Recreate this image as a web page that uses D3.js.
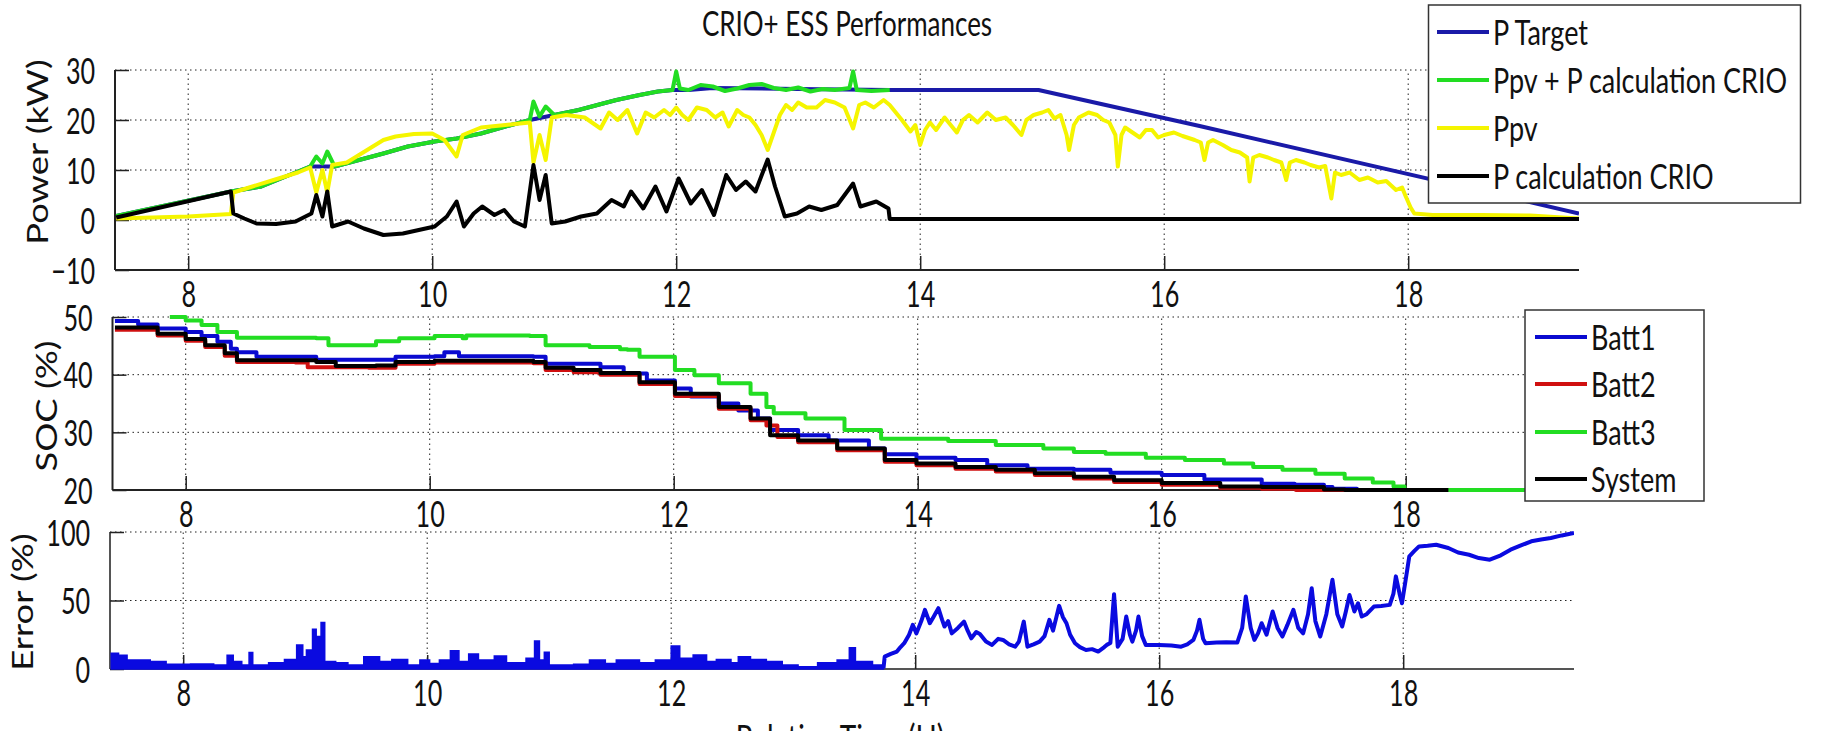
<!DOCTYPE html>
<html>
<head>
<meta charset="utf-8">
<script src="https://cdn.jsdelivr.net/npm/d3@7"></script>
<style>
  body { margin: 0; background: #fff; }
  svg { display: block; font-family: Lato, "Open Sans", sans-serif; }
</style>
</head>
<body>
<div id="chart"></div>
<script>
// ---- data (time in relative hours) ----

// Power panel
var tTarget = [7.41, 8.35, 8.6, 8.8, 9.0, 9.2, 9.4, 9.6, 9.8, 10.02, 10.2, 10.4, 10.6, 10.8, 11.0, 11.2, 11.4, 11.51, 11.7, 11.85, 11.97, 12.1, 12.3, 13.0, 13.75, 14.97, 16.29, 19.4];
var pTarget = [0.8, 5.7, 6.7, 8.7, 10.7, 10.7, 12.0, 13.3, 14.7, 15.7, 16.3, 17.3, 18.7, 20.0, 21.0, 22.0, 23.3, 24.0, 25.0, 25.7, 26.0, 26.0, 26.4, 26.2, 26.0, 26.0, 18.8, 1.3];

var tPpvCalc = [7.41, 8.35, 8.6, 8.8, 9.0, 9.05, 9.1, 9.14, 9.2, 9.4, 9.6, 9.8, 10.02, 10.2, 10.4, 10.6, 10.8, 10.83, 10.88, 10.93, 11.0, 11.2, 11.4, 11.51, 11.7, 11.85, 11.97, 12.0, 12.03, 12.1, 12.2, 12.3, 12.4, 12.5, 12.6, 12.7, 12.8, 12.9, 13.0, 13.1, 13.2, 13.3, 13.42, 13.45, 13.48, 13.6, 13.75];
var pPpvCalc = [0.8, 5.7, 6.7, 8.7, 10.7, 12.7, 11.3, 13.7, 10.7, 12.0, 13.3, 14.7, 15.7, 16.3, 17.3, 18.7, 20.0, 23.7, 20.7, 22.7, 21.0, 22.0, 23.3, 24.0, 25.0, 25.7, 26.0, 29.7, 26.3, 26.0, 27.0, 26.7, 25.8, 26.3, 27.0, 27.2, 26.4, 26.0, 26.5, 25.7, 26.2, 26.0, 26.4, 29.7, 26.0, 25.8, 26.0];

var tPpv = [7.41, 8.0, 8.35, 8.37, 8.5, 8.7, 8.9, 9.0, 9.05, 9.1, 9.14, 9.18, 9.3, 9.4, 9.5, 9.6, 9.7, 9.85, 10.0, 10.1, 10.2, 10.25, 10.4, 10.6, 10.8, 10.83, 10.88, 10.93, 10.98, 11.1, 11.25, 11.38,
  11.45, 11.52, 11.6, 11.68, 11.75, 11.82, 11.9, 11.95, 12.0, 12.05, 12.1, 12.17, 12.25, 12.32, 12.38, 12.43, 12.5, 12.55, 12.6, 12.65, 12.7, 12.75, 12.8, 12.85, 12.9, 12.95, 13.0, 13.07, 13.15, 13.22, 13.3, 13.38, 13.45, 13.5, 13.55, 13.62,
  13.7, 13.75, 13.8, 13.85, 13.92, 13.96, 14.0, 14.04, 14.08, 14.13, 14.2, 14.25, 14.3, 14.35, 14.4, 14.47, 14.55, 14.62, 14.7, 14.76, 14.83, 14.87, 14.93, 15.0, 15.05, 15.1, 15.15, 15.2, 15.22, 15.26, 15.3, 15.38, 15.45, 15.5, 15.55, 15.6, 15.62, 15.65, 15.68, 15.74, 15.8, 15.85, 15.9, 15.95,
  16.0, 16.08, 16.15, 16.25, 16.3, 16.33, 16.36, 16.4, 16.48, 16.55, 16.62, 16.68, 16.7, 16.73, 16.78, 16.85, 16.9, 16.96, 17.0, 17.03, 17.08, 17.15, 17.2, 17.27, 17.32, 17.37, 17.4, 17.45, 17.52, 17.6, 17.67, 17.75, 17.82, 17.9, 17.95, 17.98, 18.02, 18.05, 18.2, 18.6, 19.0, 19.4];
var pPpv = [0.3, 0.7, 1.2, 5.5, 6.5, 8.0, 9.5, 10.5, 5.5, 10.0, 5.5, 11.0, 11.5, 13.0, 14.5, 16.0, 16.7, 17.2, 17.3, 16.0, 12.7, 17.0, 18.5, 19.0, 19.5, 11.5, 17.0, 12.0, 20.5, 21.0, 20.5, 18.3,
  21.5, 20.0, 22.0, 17.3, 21.5, 20.5, 22.0, 21.0, 22.5, 21.0, 20.0, 22.5, 22.0, 20.5, 21.5, 18.7, 22.0, 21.0, 20.5, 19.0, 17.0, 14.0, 17.5, 21.0, 23.0, 22.0, 23.5, 22.5, 22.5, 24.0, 23.5, 22.5, 18.3, 23.0, 23.5, 22.5,
  24.0, 23.0, 21.5, 20.0, 17.7, 19.0, 15.0, 18.0, 19.5, 18.0, 20.5, 19.0, 17.5, 20.0, 21.0, 19.5, 21.5, 20.0, 20.5, 19.0, 17.0, 20.0, 21.0, 21.5, 22.0, 20.3, 21.0, 17.0, 14.0, 19.0, 20.5, 21.5, 21.0, 20.0, 19.5, 17.0, 10.7, 17.0, 18.5, 17.5, 16.5, 18.0, 18.0, 16.5,
  17.0, 17.5, 16.8, 16.0, 15.5, 12.0, 15.5, 16.0, 15.0, 14.0, 13.5, 12.5, 7.7, 12.5, 13.0, 12.5, 12.0, 11.5, 8.0, 11.5, 12.0, 11.5, 11.0, 10.5, 10.8, 4.3, 9.5, 9.0, 9.5, 8.0, 8.5, 7.5, 7.8, 6.0, 6.5, 4.7, 2.5, 1.3, 1.0, 1.0, 0.9, 0.3];

var tCalc = [7.41, 8.35, 8.37, 8.46, 8.56, 8.72, 8.88, 9.01, 9.05, 9.1, 9.14, 9.18, 9.31, 9.44, 9.6, 9.76, 9.89, 10.02, 10.12, 10.2, 10.26, 10.34, 10.41, 10.51, 10.59, 10.67, 10.76, 10.83, 10.88, 10.93, 10.98, 11.09, 11.22, 11.35, 11.47, 11.57, 11.63, 11.73, 11.83, 11.92, 12.02, 12.12, 12.21, 12.31, 12.41, 12.49, 12.57, 12.65, 12.75, 12.81, 12.89, 12.99, 13.09, 13.19, 13.32, 13.45, 13.51, 13.64, 13.74, 13.75, 19.4];
var pCalc = [0.5, 5.7, 1.3, 0.3, -0.7, -0.8, -0.3, 1.3, 5.0, 0.7, 5.7, -1.3, -0.3, -1.7, -3.0, -2.7, -2.0, -1.3, 0.7, 3.7, -1.3, 1.3, 2.7, 1.0, 2.0, -0.3, -1.3, 11.0, 4.0, 9.0, -0.7, -0.3, 0.7, 1.3, 4.0, 2.7, 5.7, 2.3, 6.7, 1.7, 8.3, 3.3, 6.0, 1.0, 9.0, 6.0, 7.7, 5.7, 12.1, 6.7, 0.7, 1.3, 2.7, 2.0, 3.0, 7.3, 2.7, 3.7, 2.3, 0.2, 0.2];

// SOC panel
var tBatt1 = [7.42, 7.61, 7.77, 8.0, 8.13, 8.26, 8.37, 8.42, 8.58, 9.07, 9.72, 10.04, 10.12, 10.24, 10.85, 10.95, 11.4, 11.59, 11.78, 12.01, 12.14, 12.37, 12.53, 12.69, 12.79, 13.02, 13.27, 13.6, 13.73, 13.99, 14.31, 14.57, 14.9, 15.28, 15.58, 16.0, 16.35, 16.82, 17.09, 17.33, 17.4, 17.6];
var batt1 = [49.3, 48.7, 48.0, 47.4, 46.7, 45.7, 44.5, 43.9, 43.1, 42.6, 43.1, 43.2, 43.9, 43.2, 43.1, 41.9, 41.3, 40.2, 39.0, 37.6, 36.2, 35.0, 33.8, 32.4, 30.4, 29.5, 28.6, 27.2, 26.2, 25.6, 25.2, 24.3, 23.7, 23.5, 23.0, 22.6, 21.8, 21.1, 20.9, 20.5, 20.2, 20.0];

var tBatt2 = [7.42, 7.77, 8.0, 8.16, 8.32, 8.42, 8.9, 9.0, 9.5, 9.72, 10.04, 10.85, 10.95, 11.18, 11.4, 11.72, 12.01, 12.37, 12.63, 12.76, 12.85, 13.02, 13.34, 13.73, 13.99, 14.31, 14.64, 14.96, 15.28, 15.61, 16.0, 16.48, 16.82, 17.1, 17.55];
var batt2 = [47.8, 46.8, 45.9, 44.8, 43.3, 42.2, 42.1, 41.3, 41.2, 41.9, 42.1, 42.0, 40.8, 40.4, 40.0, 38.4, 36.3, 34.1, 32.1, 31.2, 29.2, 28.3, 26.9, 24.9, 24.3, 23.7, 23.2, 22.6, 22.0, 21.4, 20.9, 20.4, 20.2, 20.0, 20.0];

var tBatt3 = [7.87, 8.0, 8.13, 8.26, 8.42, 9.07, 9.17, 9.52, 9.56, 9.75, 10.04, 10.27, 10.3, 10.82, 10.95, 11.31, 11.56, 11.62, 11.72, 12.01, 12.17, 12.37, 12.63, 12.76, 12.82, 13.08, 13.4, 13.7, 14.25, 14.64, 15.03, 15.28, 15.54, 15.87, 16.19, 16.51, 16.75, 16.99, 17.26, 17.5, 17.73, 17.9, 17.99, 19.4];
var batt3 = [50.0, 49.4, 48.6, 47.4, 46.4, 46.3, 45.1, 45.1, 45.8, 46.3, 46.7, 46.3, 46.8, 46.7, 45.1, 44.8, 44.4, 44.3, 43.1, 40.8, 39.9, 38.5, 36.7, 34.4, 33.3, 32.4, 30.4, 28.9, 28.5, 27.8, 27.2, 26.6, 26.3, 25.6, 25.2, 24.6, 24.0, 23.5, 22.8, 22.0, 21.3, 20.6, 20.0, 20.0];

var tSystem = [7.42, 7.77, 8.0, 8.16, 8.32, 8.42, 9.07, 9.23, 9.56, 9.72, 10.04, 10.85, 10.95, 11.18, 11.4, 11.72, 12.01, 12.37, 12.63, 12.79, 13.02, 13.34, 13.73, 13.99, 14.31, 14.64, 14.96, 15.28, 15.61, 16.0, 16.48, 16.82, 17.33, 17.5, 18.35];
var system = [48.2, 47.1, 46.2, 45.1, 43.7, 42.5, 42.2, 41.5, 41.6, 42.2, 42.4, 42.2, 41.2, 40.8, 40.3, 38.7, 36.7, 34.4, 32.4, 29.5, 28.6, 27.2, 25.2, 24.6, 24.0, 23.5, 22.9, 22.3, 21.7, 21.2, 20.6, 20.5, 20.1, 20.0, 20.0];

// Error panel
var tErr = [7.41, 7.47, 7.54, 7.67, 7.73, 7.86, 8.06, 8.25, 8.36, 8.41, 8.48, 8.54, 8.57, 8.7, 8.83, 8.93, 8.98, 9.01, 9.06, 9.09, 9.13, 9.16, 9.25, 9.35, 9.48, 9.61, 9.71, 9.84, 9.94, 10.02, 10.1, 10.19, 10.26, 10.34, 10.42, 10.55, 10.65, 10.81, 10.88, 10.92, 10.96, 11.0, 11.2, 11.33, 11.46, 11.55, 11.74, 11.87, 12.0, 12.07, 12.18, 12.29, 12.37, 12.49, 12.55, 12.65, 12.78, 12.91, 13.04, 13.2, 13.36, 13.46, 13.51, 13.65, 13.74,
  13.75, 13.8, 13.85, 13.88, 13.91, 13.95, 13.98, 14.01, 14.05, 14.08, 14.12, 14.15, 14.19, 14.22, 14.24, 14.27, 14.3, 14.35, 14.4, 14.43, 14.46, 14.5, 14.53, 14.58, 14.63, 14.68, 14.72, 14.77, 14.82, 14.85, 14.89, 14.92, 14.97, 15.02, 15.06, 15.1, 15.13, 15.18, 15.21, 15.24, 15.27, 15.31, 15.35, 15.4, 15.45, 15.5, 15.55, 15.57, 15.6, 15.63, 15.66, 15.7, 15.73, 15.76, 15.78, 15.81, 15.83, 15.86, 15.89,
  16.0, 16.1, 16.18, 16.23, 16.28, 16.31, 16.33, 16.36, 16.38, 16.47, 16.55, 16.64, 16.68, 16.71, 16.75, 16.78, 16.81, 16.84, 16.88, 16.93, 16.97, 17.01, 17.05, 17.1, 17.14, 17.18, 17.22, 17.25, 17.28, 17.32, 17.37, 17.42, 17.46, 17.5, 17.53, 17.56, 17.6, 17.63, 17.66, 17.7, 17.76, 17.82, 17.89, 17.92, 17.94, 17.97, 17.99, 18.02, 18.05, 18.09, 18.13, 18.2, 18.27, 18.37, 18.45, 18.54, 18.62, 18.71, 18.8, 18.88, 18.96, 19.05, 19.13, 19.21, 19.3, 19.4];
var err = [11.5, 10.0, 6.6, 6.6, 5.4, 3.4, 3.7, 3.0, 10.0, 5.4, 3.0, 12.0, 3.0, 4.6, 7.0, 17.6, 9.0, 13.9, 29.0, 23.7, 33.9, 5.4, 4.6, 3.0, 9.0, 5.4, 7.0, 3.0, 6.6, 4.1, 6.6, 13.4, 5.4, 11.0, 6.6, 9.5, 4.6, 7.8, 20.5, 6.6, 12.2, 3.0, 3.4, 6.6, 4.1, 6.6, 4.6, 6.6, 16.8, 7.8, 10.2, 5.4, 7.0, 4.6, 9.0, 7.0, 5.4, 3.0, 1.7, 4.6, 6.6, 15.6, 5.4, 3.0, 0.5,
  9.0, 11.0, 12.7, 16.0, 18.8, 25.0, 32.2, 26.0, 35.0, 43.2, 33.4, 38.0, 44.4, 36.0, 31.0, 35.0, 26.0, 30.0, 34.6, 28.0, 22.4, 27.0, 25.6, 20.0, 17.6, 22.0, 21.2, 18.0, 16.3, 20.0, 34.6, 16.3, 18.0, 20.0, 24.0, 35.9, 28.0, 46.1, 38.0, 33.4, 25.0, 18.8, 16.0, 13.9, 14.5, 12.7, 16.0, 17.6, 19.0, 54.6, 16.3, 22.0, 38.3, 25.0, 20.0, 28.0, 38.3, 24.0, 17.6,
  17.6, 17.2, 16.3, 18.0, 21.2, 28.0, 35.9, 22.0, 18.8, 19.3, 19.5, 19.3, 30.0, 52.9, 30.0, 21.2, 26.0, 33.4, 25.0, 42.0, 30.0, 23.7, 32.0, 43.2, 30.0, 26.0, 40.0, 59.0, 35.0, 23.7, 40.0, 65.1, 40.0, 31.0, 42.0, 54.0, 42.0, 48.0, 38.3, 40.0, 45.6, 46.0, 46.8, 55.0, 67.6, 55.0, 48.0, 65.0, 82.2, 86.0, 89.5, 90.0, 90.7, 88.3, 85.0, 83.4, 81.0, 79.8, 83.0, 87.1, 90.0, 93.2, 94.5, 95.6, 97.5, 99.3];
var errSplit = 13.745; // before this the error trace is dense enough to look filled

var xTicks = [8, 10, 12, 14, 16, 18];
var powerTicks = [-10, 0, 10, 20, 30];
var socTicks = [20, 30, 40, 50];
var errTicks = [0, 50, 100];

var powerKeys = ["P Target", "Ppv + P calculation CRIO", "Ppv", "P calculation CRIO"];
var socKeys = ["Batt1", "Batt2", "Batt3", "System"];

// ---- layout ----
var width = 1848, height = 731;
var colors = {target: "#1a1aa8", ppvCalc: "#22dd22", ppv: "#f5f500", calc: "#000000",
              batt1: "#0a0ad0", batt2: "#d01010", batt3: "#22dd22", system: "#000000", err: "#0a0ae0"};
var lw = 4;
var stretch = 1.3;   // the exported figure has tall, narrow lettering
var fontFam = "Lato, 'Open Sans', sans-serif";

var svg = d3.select("#chart").append("svg")
            .attr("width", width).attr("height", height);

function makePanel(id, xr, yDom, yr, yTicks, axisColor) {
  var x = d3.scaleLinear().domain([7.4, 19.4]).range(xr);
  var y = d3.scaleLinear().domain(yDom).range(yr);
  var g = svg.append("g");

  svg.append("clipPath").attr("id", id)
     .append("rect").attr("x", xr[0]).attr("y", yr[1] - 2)
     .attr("width", xr[1] - xr[0]).attr("height", yr[0] - yr[1] + 4);

  // dotted grid
  g.selectAll(".gx").data(xTicks).enter().append("line")
   .attr("x1", d => x(d)).attr("x2", d => x(d))
   .attr("y1", yr[0]).attr("y2", yr[1])
   .attr("stroke", "#222").attr("stroke-width", 1).attr("stroke-dasharray", "1.5,3.5");
  g.selectAll(".gy").data(yTicks).enter().append("line")
   .attr("x1", xr[0]).attr("x2", xr[1])
   .attr("y1", d => y(d)).attr("y2", d => y(d))
   .attr("stroke", "#222").attr("stroke-width", 1).attr("stroke-dasharray", "1.5,3.5");

  // axes, ticks point inwards
  var xAxis = d3.axisBottom(x).tickValues(xTicks).tickSize(-14).tickFormat(d3.format("d"));
  var yAxis = d3.axisLeft(y).tickValues(yTicks).tickSize(-14).tickPadding(22).tickFormat(d3.format("d"));

  var gx = g.append("g").attr("transform", "translate(0," + yr[0] + ")").call(xAxis);
  var gy = g.append("g").attr("transform", "translate(" + xr[0] + ",0)").call(yAxis);
  [gx, gy].forEach(function(a) {
    a.select(".domain").attr("stroke", axisColor).attr("stroke-width", 2);
    a.selectAll(".tick line").attr("stroke", "#222").attr("stroke-width", 1.5);
    a.selectAll("text").attr("font-size", 28).attr("fill", "#111")
     .attr("font-family", fontFam).attr("transform", "scale(0.9," + stretch + ")");
  });
  gx.selectAll("text").attr("y", 24 / stretch).attr("dy", "0.36em");
  gy.selectAll("text").attr("dy", "0.36em");
  gy.select(".domain").attr("d", "M0," + yr[0] + "V" + yr[1]);
  gx.select(".domain").attr("d", "M" + xr[0] + ",0H" + xr[1]);

  return {x: x, y: y, clip: "url(#" + id + ")"};
}

function drawLine(p, ts, vs, color, curve) {
  svg.append("path")
     .datum(ts.map((t, i) => [t, vs[i]]))
     .attr("clip-path", p.clip)
     .attr("d", d3.line().x(d => p.x(d[0])).y(d => p.y(d[1])).curve(curve || d3.curveLinear))
     .attr("fill", "none").attr("stroke", color)
     .attr("stroke-width", lw).attr("stroke-linejoin", "round");
}

// ---- panel 1: power ----
var p1 = makePanel("c1", [115, 1579], [-10, 30], [270, 70], powerTicks, "#222");
drawLine(p1, tTarget, pTarget, colors.target);
drawLine(p1, tPpvCalc, pPpvCalc, colors.ppvCalc);
drawLine(p1, tPpv, pPpv, colors.ppv);
drawLine(p1, tCalc, pCalc, colors.calc);

// ---- panel 2: SOC ----
var p2 = makePanel("c2", [112.5, 1576.5], [20, 50], [490, 317], socTicks, "#222");
drawLine(p2, tBatt1, batt1, colors.batt1, d3.curveStepAfter);
drawLine(p2, tBatt2, batt2, colors.batt2, d3.curveStepAfter);
drawLine(p2, tBatt3, batt3, colors.batt3, d3.curveStepAfter);
drawLine(p2, tSystem, system, colors.system, d3.curveStepAfter);

// ---- panel 3: error ----
var p3 = makePanel("c3", [110, 1574], [0, 100], [669, 532], errTicks, "#555");
var errPts = tErr.map((t, i) => [t, err[i]]);
svg.append("path")
   .datum(errPts.filter(d => d[0] <= errSplit))
   .attr("clip-path", p3.clip)
   .attr("d", d3.area().x(d => p3.x(d[0])).y0(p3.y(0)).y1(d => p3.y(d[1])).curve(d3.curveStepAfter))
   .attr("fill", colors.err).attr("stroke", colors.err).attr("stroke-width", 1.5);
var errLine = errPts.filter(d => d[0] >= errSplit - 0.01);
drawLine(p3, errLine.map(d => d[0]), errLine.map(d => d[1]), colors.err);

// ---- labels ----
function label(txt, x, y, size, rotate) {
  svg.append("text").attr("text-anchor", "middle").attr("font-size", size)
     .attr("fill", "#111").attr("dy", "0.36em")
     .attr("transform", "translate(" + x + "," + y + ") scale(1," + stretch + ")" + (rotate ? " rotate(-90)" : ""))
     .text(txt);
}
label("CRIO+ ESS Performances", 847, 24, 26);
label("Power (kW)", 38, 152, 28, true);
label("SOC (%)", 47, 406, 28, true);
label("Error (%)", 23, 602, 28, true);
label("Relative Time (H)", 840, 738, 28);

// ---- legends ----
function legend(keys, cols, box, x0, rows) {
  svg.append("rect").attr("x", box[0]).attr("y", box[1]).attr("width", box[2]).attr("height", box[3])
     .attr("fill", "#fff").attr("stroke", "#333").attr("stroke-width", 1.5);
  var lg = svg.selectAll(null).data(keys).enter().append("g")
              .attr("transform", (d, i) => "translate(" + x0 + "," + rows[i] + ")");
  lg.append("line").attr("x1", 0).attr("x2", 52).attr("stroke", (d, i) => cols[i]).attr("stroke-width", lw);
  lg.append("text").attr("transform", "translate(56,0) scale(1," + stretch + ")")
    .attr("dy", "0.36em").attr("font-size", 27).attr("fill", "#111").text(d => d);
}
legend(powerKeys, [colors.target, colors.ppvCalc, colors.ppv, colors.calc],
       [1428.5, 5, 372, 198], 1437, [32, 80, 128, 176]);
legend(socKeys, [colors.batt1, colors.batt2, colors.batt3, colors.system],
       [1525, 310, 179, 191], 1535, [337, 384, 432, 479]);
</script>
</body>
</html>
